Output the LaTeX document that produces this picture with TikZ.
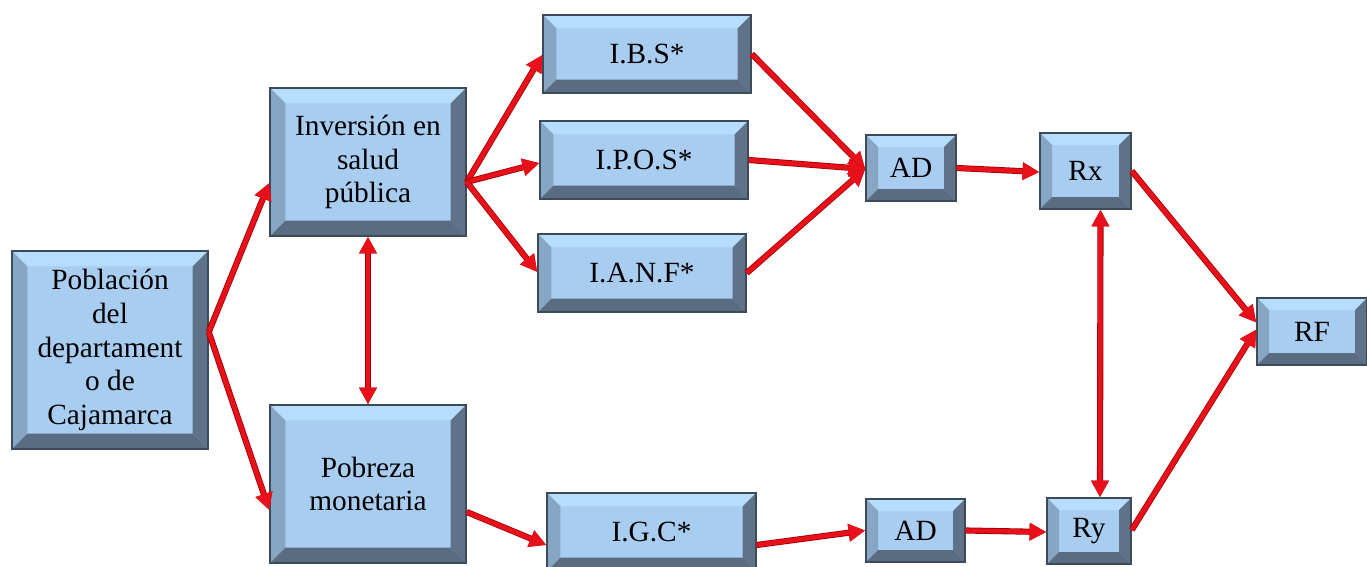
\documentclass[tikz,border=0pt]{standalone}
\usepackage{fontspec}
\setmainfont{Liberation Serif}
\newfontfamily\boxfont{Liberation Serif}
\usetikzlibrary{arrows.meta,calc}

\definecolor{facec}{HTML}{A8CDF0}
\definecolor{topc}{HTML}{B6DDFB}
\definecolor{leftc}{HTML}{87A6C4}
\definecolor{rightc}{HTML}{5E738A}
\definecolor{botc}{HTML}{5A6C81}
\definecolor{edgec}{HTML}{3C4A5A}
\definecolor{arrc}{HTML}{E8101A}
\definecolor{arrdark}{HTML}{A00000}

\tikzset{
  Hd/.tip={Triangle[length=12.5pt,width=12.5pt]},
  bevelbox/.style={
    draw=edgec, line width=1.1pt, fill=facec, inner sep=0pt, align=center,
    font=\boxfont\fontsize{22}{25.3}\selectfont,
    path picture={
      \def\b{#1}
      \coordinate (nw) at (path picture bounding box.north west);
      \coordinate (ne) at (path picture bounding box.north east);
      \coordinate (sw) at (path picture bounding box.south west);
      \coordinate (se) at (path picture bounding box.south east);
      \fill[topc]   (nw) -- (ne) -- ([shift={(-\b,-\b)}]ne) -- ([shift={(\b,-\b)}]nw) -- cycle;
      \fill[leftc]  (nw) -- ([shift={(\b,-\b)}]nw) -- ([shift={(\b,\b)}]sw) -- (sw) -- cycle;
      \fill[rightc] (ne) -- ([shift={(-\b,-\b)}]ne) -- ([shift={(-\b,\b)}]se) -- (se) -- cycle;
      \fill[botc]   (sw) -- ([shift={(\b,\b)}]sw) -- ([shift={(-\b,\b)}]se) -- (se) -- cycle;
    }},
  boxsize/.style 2 args={minimum width=#1*0.75pt, minimum height=#2*0.75pt},
  arr/.style={draw=arrc, line width=3.4pt, -Hd,
    preaction={draw=arrdark, line width=4.6pt, -Hd}},
  arrboth/.style={draw=arrc, line width=3.4pt, Hd-Hd,
    preaction={draw=arrdark, line width=4.6pt, Hd-Hd}},
}

\begin{document}
\begin{tikzpicture}[x=0.75pt, y=-0.75pt]
  \useasboundingbox (0,0) rectangle (1367,567);
  \clip (0,0) rectangle (1367,567);

  % boxes
  \node[bevelbox=11.5pt, boxsize={196}{198}] (pob)  at (110,350)   {Población\\del\\departament\\o de\\Cajamarca};
  \node[bevelbox=11.5pt, boxsize={196}{148}] (inv)  at (368,162)   {Inversión en\\salud\\pública};
  \node[bevelbox=11.5pt, boxsize={196}{158}] (pobr) at (368,484)   {Pobreza\\monetaria};
  \node[bevelbox=10pt,   boxsize={208}{78}]  (ibs)  at (647,54)    {I.B.S*};
  \node[bevelbox=10pt,   boxsize={208}{78}]  (ipos) at (644,160)   {I.P.O.S*};
  \node[bevelbox=10pt,   boxsize={208}{78}]  (ianf) at (642,273)   {I.A.N.F*};
  \node[bevelbox=10pt,   boxsize={209}{78}]  (igc)  at (651.5,532) {I.G.C*};
  \node[bevelbox=9pt,    boxsize={90}{66}]   (ad1)  at (911,168)   {AD};
  \node[bevelbox=9pt,    boxsize={91}{76}]   (rx)   at (1085.5,171){Rx};
  \node[bevelbox=9pt,    boxsize={110}{67}]  (rf)   at (1312,331.5){RF};
  \node[bevelbox=9pt,    boxsize={99}{63}]   (ad2)  at (915.5,530.5){AD};
  \node[bevelbox=9pt,    boxsize={84}{66}]   (ry)   at (1089,531)  {Ry};

  % connector end points on the box sides
  \coordinate (pobOut)  at ($(pob.east)+(0,-18)$);
  \coordinate (invIn)   at ($(inv.west)+(0,21)$);
  \coordinate (pobrIn)  at ($(pobr.west)+(0,26)$);
  \coordinate (invOut)  at ($(inv.east)+(0,20)$);
  \coordinate (ibsIn)   at ($(ibs.west)+(0,1)$);
  \coordinate (iposIn)  at ($(ipos.west)+(0,3)$);
  \coordinate (ianfIn)  at ($(ianf.west)+(0,-1)$);
  \coordinate (ibsOut)  at ($(ibs.east)+(0,0)$);
  \coordinate (iposOut) at ($(ipos.east)+(0,0)$);
  \coordinate (ianfOut) at ($(ianf.east)+(0,0)$);
  \coordinate (adIn)    at ($(ad1.west)+(0,1)$);
  \coordinate (adOut)   at ($(ad1.east)+(0,0)$);
  \coordinate (rxIn)    at ($(rx.west)+(0,1)$);
  \coordinate (rxOut)   at ($(rx.east)+(0,0)$);
  \coordinate (rfInA)   at ($(rf.west)+(0,-9)$);
  \coordinate (rfInB)   at ($(rf.west)+(0,-2)$);
  \coordinate (ryOut)   at ($(ry.east)+(0,-1)$);
  \coordinate (pobrOut) at ($(pobr.east)+(0,28)$);
  \coordinate (igcIn)   at ($(igc.west)+(0,13)$);
  \coordinate (igcOut)  at ($(igc.east)+(0,13)$);
  \coordinate (ad2In)   at ($(ad2.west)+(0,0)$);
  \coordinate (ad2Out)  at ($(ad2.east)+(0,0)$);
  \coordinate (ryIn)    at ($(ry.west)+(0,1)$);
  \coordinate (rxBot)   at ($(rx.south)+(15,0)$);
  \coordinate (ryTop)   at ($(ry.north)+(11,0)$);
  \coordinate (invBot)  at (inv.south);
  \coordinate (pobrTop) at (pobr.north);

  % connectors
  \draw[arr] (pobOut) -- (invIn);
  \draw[arr] (pobOut) -- (pobrIn);
  \draw[arrboth] (invBot) -- (pobrTop);
  \draw[arr] (invOut) -- (ibsIn);
  \draw[arr] (invOut) -- (iposIn);
  \draw[arr] (invOut) -- (ianfIn);
  \draw[arr] (ibsOut) -- (adIn);
  \draw[arr] (iposOut) -- (adIn);
  \draw[arr] (ianfOut) -- (adIn);
  \draw[arr] (adOut) -- (rxIn);
  \draw[arr] (rxOut) -- (rfInA);
  \draw[arr] (ryOut) -- (rfInB);
  \draw[arrboth] (rxBot) -- (ryTop);
  \draw[arr] (pobrOut) -- (igcIn);
  \draw[arr] (igcOut) -- (ad2In);
  \draw[arr] (ad2Out) -- (ryIn);
\end{tikzpicture}
\end{document}
